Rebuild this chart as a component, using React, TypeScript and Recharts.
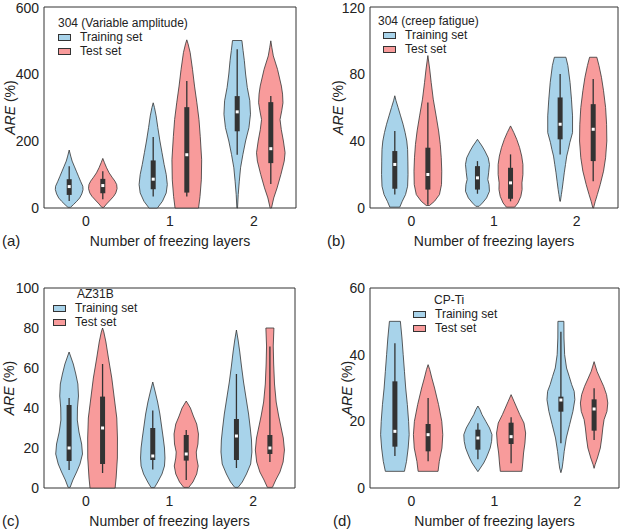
import React from "react";
import {
  ComposedChart,
  Scatter,
  XAxis,
  YAxis,
  ReferenceArea,
  Legend,
} from "recharts";

const groups = [0, 1, 2];
const seriesNames = ["Training set", "Test set"];
const seriesColors = ["#a8d3ea", "#f89b9b"];
const dodge = [-0.2, 0.2];

// violin outlines, one per group: [ARE value, half width in group units]
const trainShapeA = [
  [[2, 0.015], [10, 0.05], [20, 0.09], [30, 0.125], [42, 0.15], [55, 0.165], [65, 0.162], [80, 0.135], [95, 0.11], [110, 0.085], [125, 0.06], [140, 0.035], [155, 0.018], [173, 0]],
  [[0, 0.05], [20, 0.11], [45, 0.155], [70, 0.168], [100, 0.155], [130, 0.13], [165, 0.105], [200, 0.08], [240, 0.055], [275, 0.035], [300, 0.015], [314, 0]],
  [[0, 0.004], [40, 0.012], [80, 0.025], [120, 0.04], [160, 0.068], [200, 0.1], [240, 0.14], [280, 0.158], [320, 0.15], [360, 0.12], [400, 0.1], [440, 0.085], [470, 0.07], [500, 0.056]],
];
const testShapeA = [
  [[2, 0.012], [12, 0.045], [24, 0.09], [35, 0.13], [45, 0.155], [58, 0.17], [70, 0.165], [80, 0.145], [92, 0.11], [105, 0.075], [120, 0.045], [135, 0.02], [148, 0]],
  [[0, 0.14], [34, 0.157], [84, 0.173], [144, 0.177], [214, 0.16], [264, 0.145], [314, 0.12], [364, 0.092], [414, 0.068], [464, 0.04], [490, 0.015], [502, 0]],
  [[0, 0.008], [30, 0.035], [60, 0.075], [100, 0.12], [140, 0.16], [165, 0.17], [200, 0.15], [234, 0.125], [264, 0.11], [290, 0.13], [314, 0.145], [340, 0.14], [364, 0.126], [414, 0.08], [454, 0.03], [480, 0.012], [499, 0]],
];
// box stats per group: [low whisker, Q1, median, Q3, high whisker]
const trainBoxA = [[21, 39, 64, 86, 125], [34, 56, 86, 142, 212], [159, 229, 287, 334, 474]];
const testBoxA = [[26, 44, 67, 87, 110], [34, 46, 159, 301, 379], [72, 134, 177, 316, 334]];

const trainShapeB = [
  [[0.5, 0.06], [4, 0.09], [8, 0.13], [13, 0.155], [20, 0.16], [28, 0.158], [35, 0.155], [40, 0.145], [45, 0.125], [50, 0.1], [55, 0.07], [60, 0.04], [64, 0.015], [67, 0]],
  [[1, 0.02], [3, 0.06], [6, 0.11], [10, 0.145], [14, 0.14], [17, 0.125], [21, 0.135], [26, 0.145], [30, 0.13], [34, 0.09], [37, 0.055], [39.5, 0.02], [41, 0]],
  [[4, 0.003], [8, 0.015], [11, 0.024], [16, 0.037], [21, 0.05], [26, 0.065], [31, 0.08], [35, 0.1], [39, 0.117], [45, 0.15], [55, 0.15], [65, 0.137], [75, 0.12], [85, 0.094], [90, 0.07]],
];
const testShapeB = [
  [[1.5, 0.02], [4, 0.08], [8, 0.14], [14, 0.165], [22, 0.168], [30, 0.162], [38, 0.15], [46, 0.13], [55, 0.1], [65, 0.065], [75, 0.04], [83, 0.022], [91, 0]],
  [[0.5, 0.05], [3, 0.09], [7, 0.125], [11, 0.14], [15, 0.138], [20, 0.15], [26, 0.15], [31, 0.135], [36, 0.11], [41, 0.075], [45, 0.04], [49, 0]],
  [[0, 0.004], [4, 0.025], [8, 0.05], [14, 0.085], [22, 0.125], [30, 0.15], [40, 0.165], [50, 0.162], [60, 0.15], [70, 0.125], [78, 0.1], [85, 0.07], [90, 0.044]],
];
const trainBoxB = [[8, 11.5, 26, 34, 46], [8.5, 11, 18, 25, 28], [32, 41, 50, 66, 80]];
const testBoxB = [[2, 11, 20, 36, 63], [4, 5.5, 15, 24, 32], [16, 28, 47, 62, 77]];

const trainShapeC = [
  [[0.3, 0.012], [4, 0.045], [8, 0.09], [12, 0.13], [17, 0.16], [22, 0.15], [28, 0.118], [34, 0.098], [40, 0.1], [46, 0.112], [52, 0.105], [57, 0.08], [62, 0.05], [65, 0.025], [68, 0]],
  [[0.2, 0.02], [3, 0.06], [7, 0.11], [11, 0.14], [15, 0.146], [20, 0.14], [25, 0.125], [31, 0.105], [37, 0.085], [43, 0.058], [48, 0.03], [53, 0]],
  [[0.3, 0.02], [3, 0.07], [7, 0.12], [12, 0.17], [18, 0.185], [24, 0.18], [30, 0.165], [37, 0.145], [45, 0.115], [53, 0.085], [61, 0.06], [68, 0.04], [74, 0.02], [79, 0]],
];
const testShapeC = [
  [[0, 0.15], [5, 0.162], [15, 0.177], [25, 0.178], [35, 0.17], [45, 0.14], [55, 0.11], [65, 0.07], [73, 0.04], [78, 0.015], [80, 0]],
  [[0.3, 0.03], [3, 0.08], [7, 0.125], [11, 0.143], [15, 0.125], [18, 0.12], [22, 0.14], [27, 0.146], [32, 0.125], [36, 0.085], [40, 0.05], [43.5, 0]],
  [[0.3, 0.03], [4, 0.07], [8, 0.12], [13, 0.158], [19, 0.174], [25, 0.16], [30, 0.135], [36, 0.105], [43, 0.075], [52, 0.055], [62, 0.045], [71, 0.04], [80, 0.048]],
];
const trainBoxC = [[9, 13.5, 20, 41.5, 45], [9.3, 14, 16, 30, 38.7], [10, 14, 26, 34.5, 57]];
const testBoxC = [[7.5, 12, 30, 45.7, 62], [4, 13.7, 17, 26.5, 29], [13, 17, 20, 26.5, 70.7]];

const trainShapeD = [
  [[5, 0.115], [8, 0.14], [12, 0.16], [16, 0.172], [20, 0.165], [25, 0.15], [30, 0.13], [35, 0.115], [40, 0.1], [45, 0.085], [50, 0.066]],
  [[4.9, 0], [6, 0.03], [7.5, 0.07], [9, 0.1], [10.5, 0.125], [12, 0.148], [14, 0.165], [16, 0.17], [18, 0.14], [20, 0.095], [22, 0.05], [23.5, 0.025], [24.6, 0]],
  [[4.6, 0], [6, 0.015], [8, 0.026], [11, 0.04], [15, 0.065], [19, 0.105], [23, 0.145], [26.5, 0.168], [29, 0.16], [31, 0.13], [33.5, 0.1], [36, 0.068], [40, 0.045], [45, 0.037], [50, 0.036]],
];
const testShapeD = [
  [[5, 0.12], [8, 0.135], [12, 0.167], [16, 0.177], [20, 0.165], [25, 0.126], [30, 0.078], [33, 0.045], [35.5, 0.02], [37, 0]],
  [[5, 0.13], [7.5, 0.14], [10.5, 0.15], [13.5, 0.167], [16.5, 0.175], [19.5, 0.155], [22, 0.105], [24, 0.07], [26, 0.035], [28, 0]],
  [[5.9, 0], [7, 0.012], [9, 0.04], [12, 0.075], [15, 0.092], [18, 0.105], [20.5, 0.12], [23, 0.155], [25.5, 0.165], [28, 0.15], [30.5, 0.115], [33, 0.07], [35, 0.035], [37.9, 0]],
];
const trainBoxD = [[9.6, 12.4, 17, 32, 43.4], [8.6, 11.5, 15, 17.5, 19.4], [13.4, 22.9, 26.4, 27.4, 46.9]];
const testBoxD = [[8, 11, 16, 19.2, 27], [7.4, 13.2, 15.4, 19.6, 21.2], [14.4, 17.2, 23.7, 26.6, 29.9]];

const ticksA = [0, 200, 400, 600];
const ticksB = [0, 40, 80, 120];
const ticksC = [0, 20, 40, 60, 80, 100];
const ticksD = [0, 20, 40, 60];

const FONT = '"Liberation Sans", Arial, sans-serif';
const INK = "#222";
const EDGE = "#333";

type Shape = number[][];
type Box = number[];

function outline(shape: Shape, center: number) {
  const right = shape.map(([v, w]) => ({ x: center + w, y: v }));
  const left = [...shape].reverse().map(([v, w]) => ({ x: center - w, y: v }));
  return [...right, ...left];
}

const noSymbol = () => <g />;

// Scatter hands its line renderer the pixel points, so the shapes go through the axes' scales
const violinPath = (color: string) => (props: any) => {
  const pts = props.points ?? [];
  const d =
    pts.map((p: any, i: number) => `${i ? "L" : "M"}${p.x},${p.y}`).join("") + "Z";
  return <path d={d} fill={color} stroke={EDGE} strokeWidth={0.8} strokeLinejoin="round" />;
};

const segment = (width: number) => (props: any) => {
  const pts = props.points ?? [];
  const d = pts.map((p: any, i: number) => `${i ? "L" : "M"}${p.x},${p.y}`).join("");
  return <path d={d} fill="none" stroke={EDGE} strokeWidth={width} />;
};
const whiskerLine = segment(1.3);
const boxLine = segment(5);

const medianDot = (p: any) => (
  <rect x={p.cx - 1.5} y={p.cy - 1.5} width={3} height={3} fill="#fff" />
);

interface PanelProps {
  left: number;
  top: number;
  height: number;
  margin: { top: number; right: number; bottom: number; left: number };
  yAxisWidth: number;
  xAxisHeight: number;
  yTitleGap: number;
  letter: string;
  letterX: number;
  title: string;
  legendLeft: number;
  legendTop: number;
  titleDx: number;
  yTicks: number[];
  shapes: Shape[][];
  boxes: Box[][];
}

function LegendBox({ title, titleDx }: { title: string; titleDx: number }) {
  return (
    <div style={{ fontSize: 12, color: INK, lineHeight: "14px", fontFamily: FONT }}>
      <div style={{ marginLeft: titleDx, whiteSpace: "nowrap" }}>{title}</div>
      {seriesNames.map((name, i) => (
        <div key={name} style={{ display: "flex", alignItems: "center", whiteSpace: "nowrap" }}>
          <span
            style={{
              display: "inline-block",
              width: 13,
              height: 7,
              boxSizing: "border-box",
              background: seriesColors[i],
              border: `1px solid ${EDGE}`,
              marginRight: 9,
            }}
          />
          {name}
        </div>
      ))}
    </div>
  );
}

function ViolinPanel(p: PanelProps) {
  const yMax = p.yTicks[p.yTicks.length - 1];
  const violins = p.shapes.flatMap((perGroup, s) =>
    perGroup.map((shape, g) => ({
      key: `${s}-${g}`,
      color: seriesColors[s],
      points: outline(shape, groups[g] + dodge[s]),
    }))
  );
  const boxes = p.boxes.flatMap((perGroup, s) =>
    perGroup.map(([lo, q1, med, q3, hi], g) => {
      const x = groups[g] + dodge[s];
      return {
        key: `${s}-${g}`,
        whisker: [{ x, y: lo }, { x, y: hi }],
        box: [{ x, y: q1 }, { x, y: q3 }],
        median: { x, y: med },
      };
    })
  );
  const medians = boxes.map((b) => b.median);

  const xTitle = (props: any) => {
    const vb = props.viewBox;
    return (
      <g>
        <text x={vb.x + vb.width / 2} y={vb.y + 38} textAnchor="middle" fontSize={14} fill={INK}>
          Number of freezing layers
        </text>
        <text x={p.letterX} y={vb.y + 38} fontSize={15} fill={INK}>
          {p.letter}
        </text>
      </g>
    );
  };

  const yTitle = (props: any) => {
    const vb = props.viewBox;
    const cx = vb.x + vb.width - p.yTitleGap;
    const cy = vb.y + vb.height / 2;
    return (
      <text
        x={cx}
        y={cy}
        transform={`rotate(-90, ${cx}, ${cy})`}
        textAnchor="middle"
        dominantBaseline="central"
        fontSize={14}
        fill={INK}
      >
        <tspan fontStyle="italic">ARE</tspan> (%)
      </text>
    );
  };

  return (
    <div style={{ position: "absolute", left: p.left, top: p.top }}>
      <ComposedChart width={311} height={p.height} margin={p.margin}>
        <XAxis
          type="number"
          dataKey="x"
          domain={[-0.5, 2.5]}
          ticks={groups}
          axisLine={false}
          tickLine={false}
          height={p.xAxisHeight}
          tick={{ fontSize: 14, fill: INK }}
          label={{ content: xTitle }}
        />
        <YAxis
          type="number"
          dataKey="y"
          domain={[0, yMax]}
          ticks={p.yTicks}
          axisLine={false}
          tickLine={false}
          tickSize={3}
          tickMargin={2}
          width={p.yAxisWidth}
          tick={{ fontSize: 14, fill: INK }}
          label={{ content: yTitle }}
        />
        {violins.map((v) => (
          <Scatter
            key={`v-${v.key}`}
            data={v.points}
            shape={noSymbol}
            line={violinPath(v.color)}
            lineType="joint"
            legendType="none"
            isAnimationActive={false}
          />
        ))}
        {boxes.map((b) => (
          <Scatter
            key={`w-${b.key}`}
            data={b.whisker}
            shape={noSymbol}
            line={whiskerLine}
            lineType="joint"
            legendType="none"
            isAnimationActive={false}
          />
        ))}
        {boxes.map((b) => (
          <Scatter
            key={`b-${b.key}`}
            data={b.box}
            shape={noSymbol}
            line={boxLine}
            lineType="joint"
            legendType="none"
            isAnimationActive={false}
          />
        ))}
        <Scatter data={medians} shape={medianDot} legendType="none" isAnimationActive={false} />
        <ReferenceArea x1={-0.5} x2={2.5} y1={0} y2={yMax} fill="none" stroke={EDGE} strokeWidth={1} ifOverflow="visible" />
        <Legend
          layout="vertical"
          align="center"
          verticalAlign="middle"
          wrapperStyle={{ left: p.legendLeft, top: p.legendTop, width: "auto", height: "auto" }}
          content={() => <LegendBox title={p.title} titleDx={p.titleDx} />}
        />
      </ComposedChart>
    </div>
  );
}

export default function App() {
  return (
    <div
      style={{
        position: "absolute",
        left: 0,
        top: 0,
        width: 622,
        height: 532,
        background: "#fff",
        fontFamily: FONT,
      }}
    >
      <ViolinPanel
        left={0}
        top={0}
        height={265}
        margin={{ top: 7, right: 15, bottom: 0, left: 0 }}
        yAxisWidth={44}
        xAxisHeight={57}
        yTitleGap={34}
        letter="(a)"
        letterX={2}
        title="304 (Variable amplitude)"
        legendLeft={58}
        legendTop={16}
        titleDx={0}
        yTicks={ticksA}
        shapes={[trainShapeA, testShapeA]}
        boxes={[trainBoxA, testBoxA]}
      />
      <ViolinPanel
        left={311}
        top={0}
        height={265}
        margin={{ top: 7, right: 4, bottom: 0, left: 0 }}
        yAxisWidth={59}
        xAxisHeight={57}
        yTitleGap={32}
        letter="(b)"
        letterX={16}
        title="304 (creep fatigue)"
        legendLeft={72}
        legendTop={14}
        titleDx={-5}
        yTicks={ticksB}
        shapes={[trainShapeB, testShapeB]}
        boxes={[trainBoxB, testBoxB]}
      />
      <ViolinPanel
        left={0}
        top={265}
        height={267}
        margin={{ top: 23, right: 16, bottom: 0, left: 0 }}
        yAxisWidth={44}
        xAxisHeight={44}
        yTitleGap={35}
        letter="(c)"
        letterX={2}
        title="AZ31B"
        legendLeft={53}
        legendTop={22}
        titleDx={24}
        yTicks={ticksC}
        shapes={[trainShapeC, testShapeC]}
        boxes={[trainBoxC, testBoxC]}
      />
      <ViolinPanel
        left={311}
        top={265}
        height={267}
        margin={{ top: 23, right: 3, bottom: 0, left: 0 }}
        yAxisWidth={59}
        xAxisHeight={44}
        yTitleGap={23}
        letter="(d)"
        letterX={22}
        title="CP-Ti"
        legendLeft={102}
        legendTop={28}
        titleDx={21}
        yTicks={ticksD}
        shapes={[trainShapeD, testShapeD]}
        boxes={[trainBoxD, testBoxD]}
      />
    </div>
  );
}
